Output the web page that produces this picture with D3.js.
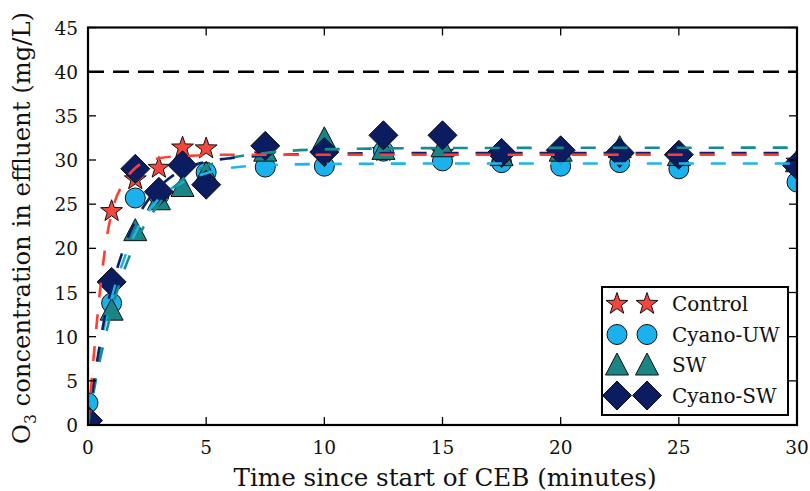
<!DOCTYPE html>
<html><head><meta charset="utf-8">
<script src="https://cdn.jsdelivr.net/npm/d3@7"></script>
<style>body{margin:0;background:#fff}svg{display:block}svg text{font-family:"DejaVu Serif",serif;fill:#111}</style>
</head><body><svg id="c" width="810" height="491"></svg>
<script>
// ---- data ----
const times = [0, 1, 2, 3, 4, 5, 7.5, 10, 12.5, 15, 17.5, 20, 22.5, 25, 30];
const controlVals = [0, 24.2, 27.8, 29.1, 31.4, 31.3, 30.5, 30.8, 31.0, 30.8, 30.5, 30.6, 30.8, 30.4, 29.8];
const cyanoUWVals = [2.5, 13.8, 25.7, 26.0, 29.5, 28.6, 29.2, 29.3, 31.0, 29.9, 29.7, 29.3, 29.7, 29.0, 27.5];
const swVals = [0.3, 13.0, 22.0, 25.5, 27.0, 28.5, 31.0, 32.4, 31.2, 31.5, 30.5, 31.0, 31.4, 30.5, 29.8];
const cyanoSWVals = [0.5, 16.2, 29.0, 26.4, 29.4, 27.2, 31.6, 30.9, 32.8, 32.8, 30.8, 31.1, 30.8, 30.6, 29.4];

const fitTimes = [0, 0.25, 0.5, 0.75, 1, 1.5, 2, 2.5, 3, 4, 5, 6, 7.5, 10, 15, 30];
const controlFit = [0, 8, 15, 20.5, 24, 27.4, 29.1, 29.9, 30.2, 30.45, 30.55, 30.6, 30.6, 30.6, 30.6, 30.6];
const cyanoUWFit = [0, 4.5, 8.4, 11.9, 14.5, 18.6, 21.7, 24.0, 25.6, 27.5, 28.5, 29.1, 29.4, 29.55, 29.6, 29.6];
const swFit = [0, 3.9, 7.3, 10.2, 13.0, 17.3, 20.6, 23.1, 25.0, 27.8, 29.3, 30.2, 30.8, 31.2, 31.35, 31.4];
const cyanoSWFit = [0, 4.9, 9.1, 12.8, 15.5, 19.9, 23.1, 25.3, 26.9, 28.9, 29.8, 30.2, 30.5, 30.7, 30.8, 30.8];

const limitValue = 40;
const seriesNames = ["Control", "Cyano-UW", "SW", "Cyano-SW"];
const xTicks = [0, 5, 10, 15, 20, 25, 30];
const yTicks = [0, 5, 10, 15, 20, 25, 30, 35, 40, 45];

// ---- layout ----
const FONT = '"DejaVu Serif",serif';
const L = 88, R = 797, T = 27.5, B = 425;
const svg = d3.select("#c");
const x = d3.scaleLinear().domain([0, 30]).range([L, R]);
const y = d3.scaleLinear().domain([0, 45]).range([B, T]);

const colors = {
  "Control": {fill: "#f3473d", line: "#ff3d33"},
  "Cyano-UW": {fill: "#1bb1ec", line: "#1ab4f0"},
  "SW": {fill: "#1b8585", line: "#178c8c"},
  "Cyano-SW": {fill: "#0b1c60", line: "#0c2068"}
};

function starPath(ro, ri) {
  const pts = [];
  for (let i = 0; i < 10; i++) {
    const r = i % 2 ? ri : ro;
    const a = -Math.PI / 2 + i * Math.PI / 5;
    pts.push([r * Math.cos(a), r * Math.sin(a)]);
  }
  return "M" + pts.map(p => p.join(",")).join("L") + "Z";
}
const shapes = {
  "Control": starPath(11.5, 4.6),
  "Cyano-UW": d3.symbol().type(d3.symbolCircle).size(Math.PI * 10 * 10)(),
  "SW": "M0,-12L11.5,10L-11.5,10Z",
  "Cyano-SW": "M0,-14.5L14.5,0L0,14.5L-14.5,0Z"
};

svg.append("defs").append("clipPath").attr("id", "clip")
  .append("rect").attr("x", L).attr("y", T).attr("width", R - L).attr("height", B - T);

const plot = svg.append("g").attr("clip-path", "url(#clip)");

// limit line
plot.append("line").attr("x1", x(0)).attr("x2", x(30)).attr("y1", y(limitValue)).attr("y2", y(limitValue))
  .attr("stroke", "#000").attr("stroke-width", 2.5).attr("stroke-dasharray", "16,9");

const pointData = {
  "Control": controlVals, "Cyano-UW": cyanoUWVals, "SW": swVals, "Cyano-SW": cyanoSWVals
};
const fitData = {
  "Control": controlFit, "Cyano-UW": cyanoUWFit, "SW": swFit, "Cyano-SW": cyanoSWFit
};

seriesNames.forEach(name => {
  plot.append("g").selectAll("path").data(times.map((t, i) => [t, pointData[name][i]]))
    .join("path").attr("d", shapes[name])
    .attr("transform", d => `translate(${x(d[0])},${y(d[1])})`)
    .attr("fill", colors[name].fill).attr("stroke", "#111").attr("stroke-width", 1);
});

const line = d3.line().x(d => x(d[0])).y(d => y(d[1])).curve(d3.curveMonotoneX);
["Cyano-UW", "SW", "Cyano-SW", "Control"].forEach(name => {
  plot.append("path").datum(fitTimes.map((t, i) => [t, fitData[name][i]]))
    .attr("d", line).attr("fill", "none").attr("stroke", colors[name].line)
    .attr("stroke-width", 2.6).attr("stroke-dasharray", "15,17");
});

// ticks (inward on all sides)
const tk = 8;
const axes = svg.append("g").attr("stroke", "#000").attr("stroke-width", 1.3);
xTicks.forEach(t => {
  axes.append("line").attr("x1", x(t)).attr("x2", x(t)).attr("y1", B).attr("y2", B - tk);
  axes.append("line").attr("x1", x(t)).attr("x2", x(t)).attr("y1", T).attr("y2", T + tk);
});
yTicks.forEach(t => {
  axes.append("line").attr("x1", L).attr("x2", L + tk).attr("y1", y(t)).attr("y2", y(t));
  axes.append("line").attr("x1", R).attr("x2", R - tk).attr("y1", y(t)).attr("y2", y(t));
});
svg.append("rect").attr("x", L).attr("y", T).attr("width", R - L).attr("height", B - T)
  .attr("fill", "none").attr("stroke", "#000").attr("stroke-width", 2.2);

svg.append("g").attr("font-family", FONT).selectAll("text").data(xTicks).join("text")
  .attr("x", d => x(d)).attr("y", 454).attr("text-anchor", "middle")
  .attr("font-size", 18.5).text(d => d);
svg.append("g").attr("font-family", FONT).selectAll("text").data(yTicks).join("text")
  .attr("x", 78).attr("y", d => y(d) + 7).attr("text-anchor", "end")
  .attr("font-size", 18.5).text(d => d);

// axis labels
svg.append("text").attr("font-family", FONT).attr("x", 445).attr("y", 486).attr("text-anchor", "middle")
  .attr("font-size", 25).attr("textLength", 423).attr("lengthAdjust", "spacingAndGlyphs")
  .text("Time since start of CEB (minutes)");
const yl = svg.append("text").attr("font-family", FONT).attr("transform", "translate(30,228) rotate(-90)")
  .attr("text-anchor", "middle").attr("font-size", 25)
  .attr("textLength", 432).attr("lengthAdjust", "spacingAndGlyphs");
yl.append("tspan").text("O");
yl.append("tspan").attr("font-size", 16).attr("dy", 6).text("3");
yl.append("tspan").attr("dy", -6).text(" concentration in effluent (mg/L)");

// legend
const lg = svg.append("g");
lg.append("rect").attr("x", 602).attr("y", 287).attr("width", 186).attr("height", 128)
  .attr("fill", "#fff").attr("stroke", "#000").attr("stroke-width", 2);
seriesNames.forEach((name, i) => {
  const cy = 304 + i * 30.5;
  [617, 647].forEach(cx => {
    lg.append("path").attr("d", shapes[name]).attr("transform", `translate(${cx},${cy})`)
      .attr("fill", colors[name].fill).attr("stroke", "#111").attr("stroke-width", 1);
  });
  lg.append("text").attr("font-family", FONT).attr("x", 672).attr("y", cy + 7).attr("font-size", 20).text(name);
});
</script></body></html>
